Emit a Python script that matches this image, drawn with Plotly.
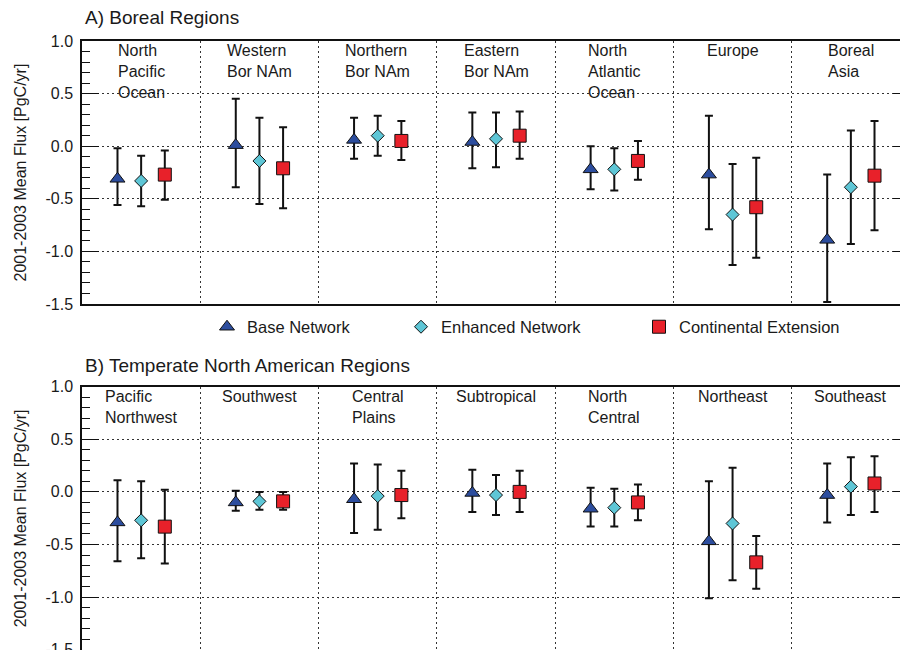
import numpy as np
import plotly.graph_objects as go

# ---- data -------------------------------------------------------------
boreal_regions = ["North<br>Pacific<br>Ocean", "Western<br>Bor NAm", "Northern<br>Bor NAm",
                  "Eastern<br>Bor NAm", "North<br>Atlantic<br>Ocean", "Europe", "Boreal<br>Asia"]
boreal_base = [-0.31, 0.01, 0.06, 0.04, -0.22, -0.27, -0.89]
boreal_base_hi = [-0.02, 0.45, 0.27, 0.32, 0.00, 0.29, -0.27]
boreal_base_lo = [-0.56, -0.39, -0.12, -0.21, -0.41, -0.79, -1.48]
boreal_enh = [-0.33, -0.14, 0.10, 0.07, -0.22, -0.65, -0.39]
boreal_enh_hi = [-0.09, 0.27, 0.29, 0.32, -0.02, -0.17, 0.15]
boreal_enh_lo = [-0.57, -0.55, -0.09, -0.20, -0.42, -1.13, -0.93]
boreal_cont = [-0.27, -0.21, 0.05, 0.10, -0.14, -0.58, -0.28]
boreal_cont_hi = [-0.04, 0.18, 0.24, 0.33, 0.05, -0.11, 0.24]
boreal_cont_lo = [-0.51, -0.59, -0.13, -0.12, -0.32, -1.06, -0.80]

temperate_regions = ["Pacific<br>Northwest", "Southwest", "Central<br>Plains", "Subtropical",
                     "North<br>Central", "Northeast", "Southeast"]
temp_base = [-0.29, -0.10, -0.07, -0.01, -0.16, -0.47, -0.03]
temp_base_hi = [0.11, 0.01, 0.27, 0.21, 0.04, 0.10, 0.27]
temp_base_lo = [-0.66, -0.18, -0.39, -0.19, -0.33, -1.01, -0.29]
temp_enh = [-0.27, -0.09, -0.04, -0.03, -0.15, -0.30, 0.05]
temp_enh_hi = [0.10, 0.00, 0.26, 0.16, 0.03, 0.23, 0.33]
temp_enh_lo = [-0.63, -0.17, -0.36, -0.22, -0.33, -0.84, -0.22]
temp_cont = [-0.33, -0.09, -0.03, 0.00, -0.10, -0.67, 0.08]
temp_cont_hi = [0.02, 0.00, 0.20, 0.20, 0.07, -0.42, 0.34]
temp_cont_lo = [-0.68, -0.17, -0.25, -0.19, -0.27, -0.92, -0.19]

series_names = ["Base Network", "Enhanced Network", "Continental Extension"]
y_ticks = [1.0, 0.5, 0.0, -0.5, -1.0, -1.5]
y_tick_text = ["1.0", "0.5", "0.0", "-0.5", "-1.0", "-1.5"]
y_title = "2001-2003 Mean Flux [PgC/yr]"
title_a = "A) Boreal Regions"
title_b = "B) Temperate North American Regions"

# ---- styling ----------------------------------------------------------
FONT = "Liberation Sans, Arial, Helvetica, sans-serif"
TXT = "#1a1a1a"
styles = [
    dict(symbol="triangle-up", size=13, color="#2c4d9e"),
    dict(symbol="diamond", size=10, color="#5ec6d6"),
    dict(symbol="square", size=13, color="#e8212a"),
]
offsets = [-0.2, 0.0, 0.2]
W, H = 900, 650
ML = 82
PW = W - ML


def px_x(px):
    return (px - ML) / PW


def px_y(py):
    return 1 - py / H


fig = go.Figure()

panels = [
    ("x", "y", [(boreal_base, boreal_base_hi, boreal_base_lo),
                (boreal_enh, boreal_enh_hi, boreal_enh_lo),
                (boreal_cont, boreal_cont_hi, boreal_cont_lo)], True),
    ("x2", "y2", [(temp_base, temp_base_hi, temp_base_lo),
                  (temp_enh, temp_enh_hi, temp_enh_lo),
                  (temp_cont, temp_cont_hi, temp_cont_lo)], False),
]
legend_ids = ["legend", "legend2", "legend3"]

for xa, ya, series, show_leg in panels:
    for k, (mean, hi, lo) in enumerate(series):
        mean = np.array(mean)
        xs = np.arange(len(mean)) + offsets[k]
        st = styles[k]
        fig.add_trace(go.Scatter(
            x=xs, y=mean, xaxis=xa, yaxis=ya, mode="markers",
            name=series_names[k], showlegend=show_leg, legend=legend_ids[k],
            marker=dict(symbol=st["symbol"], size=st["size"], color=st["color"],
                        line=dict(color="#111111", width=1)),
            error_y=dict(type="data", symmetric=False,
                         array=np.array(hi) - mean, arrayminus=mean - np.array(lo),
                         color="#111111", thickness=2, width=4),
            hoverinfo="skip",
        ))

n_reg = len(boreal_regions)
x_range = [-0.5, -0.5 + PW / ((900 - ML + 10) / 7)]
sep_vals = [i + 0.5 for i in range(n_reg - 1)]

dot = "2px,3px"
grid_col = "#333333"

xa_common = dict(range=x_range, tickvals=sep_vals, showticklabels=False, ticks="",
                 showgrid=True, gridcolor=grid_col, griddash=dot, gridwidth=1.2,
                 zeroline=False, showline=True, linecolor="#111111", linewidth=1.5,
                 automargin=False)
ya_common = dict(tickvals=y_ticks, ticktext=y_tick_text,
                 ticks="inside", ticklen=17, tickwidth=1.2, tickcolor="#111111",
                 minor=dict(dtick=0.1, ticks="inside", ticklen=8, tickwidth=1.2,
                            tickcolor="#111111", showgrid=False),
                 showgrid=True, gridcolor=grid_col, griddash=dot, gridwidth=1.2,
                 zeroline=False, showline=True, linecolor="#111111", linewidth=1.5,
                 tickfont=dict(family=FONT, size=16, color=TXT), ticklabelstandoff=4,
                 ticklabeloverflow="allow", automargin=False)
right_ticks = dict(side="right",
                   tickvals=[0.5, 0.0, -0.5, -1.0], ticks="inside", ticklen=7,
                   tickwidth=1.2, tickcolor="#111111", showticklabels=False,
                   showgrid=False, zeroline=False, showline=False, automargin=False)

top_dom = [px_y(304), px_y(41)]
bot_dom = [0.0, px_y(386.7)]
top_range = [-1.5, 1.0]
bot_range = [-1.503, 1.0]

fig.update_layout(
    width=W, height=H,
    margin=dict(l=ML, r=0, t=0, b=0, autoexpand=False),
    paper_bgcolor="white", plot_bgcolor="white",
    font=dict(family=FONT, size=16, color=TXT),
    xaxis=dict(domain=[0, 1], anchor="y", mirror=True, **xa_common),
    yaxis=dict(domain=top_dom, anchor="x", range=top_range, **ya_common),
    xaxis2=dict(domain=[0, 1], anchor="y2", side="top", mirror=False, **xa_common),
    yaxis2=dict(domain=bot_dom, anchor="x2", range=bot_range, **ya_common),
    yaxis3=dict(overlaying="y", anchor="x", range=top_range, **right_ticks),
    yaxis4=dict(overlaying="y2", anchor="x2", range=bot_range, **right_ticks),
)

# empty carriers so the right-hand tick axes are drawn
for xa, ya in [("x", "y3"), ("x2", "y4")]:
    fig.add_trace(go.Scatter(x=[0], y=[None], xaxis=xa, yaxis=ya, mode="markers",
                             showlegend=False, hoverinfo="skip"))

leg_font = dict(family=FONT, size=16.5, color=TXT)
leg_centres = [228, 422, 660]
for lid, cx in zip(legend_ids, leg_centres):
    fig.update_layout({lid: dict(x=px_x(cx - 21), y=px_y(327), xanchor="left",
                                 yanchor="middle", orientation="h", font=leg_font,
                                 bgcolor="rgba(0,0,0,0)", borderwidth=0)})

annotations = []
for regions, yref in [(boreal_regions, "y"), (temperate_regions, "y2")]:
    for i, name in enumerate(regions):
        annotations.append(dict(x=i, y=1.0, xref="x" if yref == "y" else "x2", yref=yref,
                                text=name, showarrow=False, align="left",
                                xanchor="center", yanchor="top", yshift=1,
                                font=dict(family=FONT, size=16, color=TXT)))

annotations.append(dict(x=px_x(83), y=px_y(18), xref="paper", yref="paper", text=title_a,
                        showarrow=False, xanchor="left", yanchor="middle",
                        font=dict(family=FONT, size=19, color=TXT)))
annotations.append(dict(x=px_x(83), y=px_y(366), xref="paper", yref="paper", text=title_b,
                        showarrow=False, xanchor="left", yanchor="middle",
                        font=dict(family=FONT, size=19, color=TXT)))
for dom in [top_dom, bot_dom]:
    annotations.append(dict(x=px_x(20), y=(dom[0] + dom[1]) / 2, xref="paper", yref="paper",
                            text=y_title, textangle=-90, showarrow=False,
                            xanchor="center", yanchor="middle",
                            font=dict(family=FONT, size=16, color=TXT)))

fig.update_layout(annotations=annotations)
fig.write_html("out.html")
